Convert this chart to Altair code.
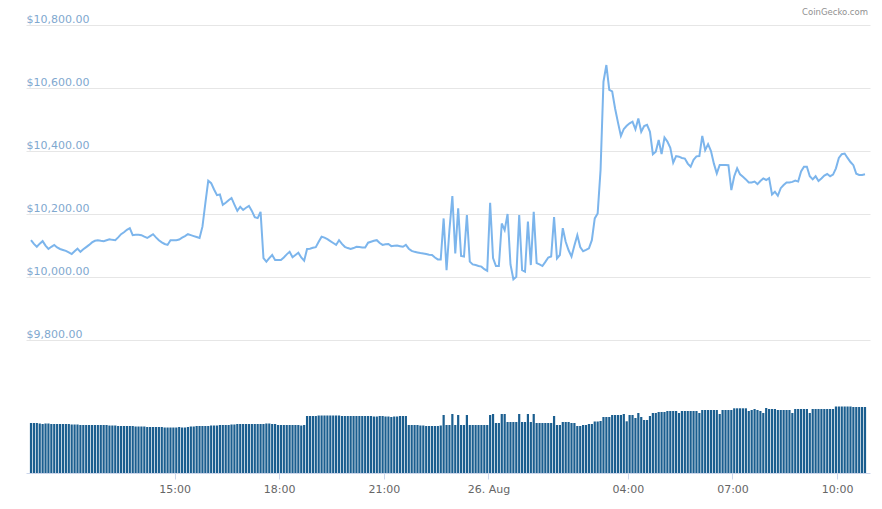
import altair as alt
import pandas as pd

# ---- data (5-minute samples, 25-26 Aug) ----
start_time = "2019-08-25 10:53"
n_points = 288

price = [
    10117, 10105, 10096, 10106, 10114, 10100, 10089, 10096, 10102, 10094, 10089, 10086,
    10083, 10078, 10073, 10082, 10090, 10080, 10088, 10095, 10102, 10110, 10115, 10117,
    10115, 10114, 10117, 10120, 10118, 10117, 10126, 10136, 10142, 10150, 10155, 10133,
    10134, 10134, 10133, 10128, 10124, 10130, 10136, 10126, 10117, 10110, 10105, 10102,
    10117, 10117, 10117, 10119, 10125, 10130, 10136, 10133, 10130, 10127, 10124, 10160,
    10235, 10306, 10298, 10278, 10260, 10262, 10229, 10236, 10244, 10251, 10230, 10210,
    10223, 10213, 10220, 10226, 10210, 10190, 10187, 10207, 10060, 10049, 10060, 10070,
    10054, 10054, 10054, 10062, 10072, 10080, 10063, 10070, 10077, 10062, 10052, 10089,
    10090, 10093, 10095, 10112, 10128, 10125, 10120, 10114, 10108, 10102, 10117, 10105,
    10096, 10092, 10089, 10092, 10096, 10095, 10094, 10094, 10109, 10112, 10115, 10117,
    10108, 10102, 10104, 10105, 10098, 10099, 10100, 10098, 10096, 10102, 10090, 10083,
    10080, 10078, 10076, 10075, 10073, 10071, 10070, 10062, 10056, 10056, 10186, 10022,
    10150, 10257, 10075, 10218, 10067, 10065, 10197, 10049, 10040, 10038, 10035, 10033,
    10025, 10020, 10236, 10060, 10035, 10035, 10170, 10149, 10200, 10040, 9993, 10001,
    10197, 10022, 10017, 10176, 10038, 10207, 10044, 10040, 10035, 10048, 10062, 10065,
    10190, 10059, 10070, 10155, 10112, 10085, 10065, 10100, 10133, 10095, 10082, 10086,
    10091, 10117, 10186, 10202, 10340, 10620, 10673, 10594, 10589, 10535, 10490, 10448,
    10470, 10480, 10488, 10493, 10469, 10503, 10461, 10479, 10483, 10461, 10390, 10398,
    10435, 10390, 10443, 10430, 10410, 10363, 10384, 10382, 10378, 10376, 10360, 10350,
    10372, 10383, 10384, 10448, 10403, 10422, 10400, 10360, 10329, 10356, 10356, 10356,
    10355, 10276, 10320, 10345, 10326, 10318, 10310, 10300, 10300, 10303, 10295, 10305,
    10313, 10308, 10314, 10262, 10271, 10258, 10282, 10292, 10300, 10300, 10302, 10306,
    10303, 10335, 10350, 10350, 10320, 10310, 10320, 10305, 10313, 10322, 10327, 10320,
    10325, 10345, 10378, 10390, 10392, 10378, 10365, 10355, 10328, 10324, 10324, 10326,
]

# relative traded volume per sample
volume = [
    50, 50, 50, 49.5, 49, 49.5, 49.5, 49, 49, 49, 49, 49,
    49, 49, 48.5, 48.5, 48.5, 48, 48, 48, 48, 48, 48, 48,
    48, 48, 48, 47.5, 47.5, 47.5, 47, 47, 47, 47, 47, 47,
    46.5, 46.5, 46.5, 46.5, 46, 46, 46, 46, 46, 46, 45.5, 45.5,
    45.5, 45.5, 45.5, 46, 45.5, 45.5, 46, 46.5, 46.5, 47, 47, 47,
    47, 47, 47.5, 47.5, 47.5, 48, 48, 48, 48, 48.5, 48.5, 49,
    49, 49, 49, 49, 49, 49, 49, 49, 49, 49.5, 49.5, 49,
    49, 48, 48, 48, 48, 48, 48, 48, 48, 47.5, 48, 57,
    57, 57, 57, 57.5, 57.5, 57.5, 57.5, 57.5, 57.5, 57.5, 57.5, 57,
    57, 57, 57, 57, 57, 57, 57, 57, 57, 57, 56.5, 56.5,
    57, 57, 56.5, 56.5, 56, 56.5, 56.5, 57, 57, 57, 48, 48,
    48, 48, 47.5, 47.5, 47, 47, 47, 47, 47, 47.5, 58, 48,
    48, 59, 48, 58, 48, 48, 58, 48, 48, 48, 48, 48,
    48, 48, 58, 59, 50, 50, 59, 59, 51, 51, 51, 51,
    59, 51, 51, 59, 51, 59, 50, 50, 50, 50, 50, 50,
    57, 48, 48, 51, 51, 51, 50, 50, 47, 47, 48, 48,
    49, 49, 51.5, 51.5, 52, 56, 56, 56, 58, 58, 58, 58,
    59, 51.7, 58, 58, 55, 60, 56, 53, 53, 57, 60, 60,
    61, 61, 61, 62, 62, 62, 62, 60, 62, 62, 62, 62,
    62, 62, 60, 63, 63, 63, 63, 63, 63, 59, 63, 63,
    63, 63, 64.7, 64.7, 64.7, 64.7, 64.7, 62, 63, 64, 63, 62,
    60, 65, 64, 64, 64, 63, 63, 63, 63, 63, 60, 64,
    64, 64, 64, 64, 60, 64, 64, 64, 64, 64, 64, 64,
    64, 66.5, 66.5, 66.5, 66.5, 66.5, 66.5, 66, 66, 66, 66, 66,
]

price_ticks = [9800, 10000, 10200, 10400, 10600, 10800]
time_ticks = [(25, 15), (25, 18), (25, 21), (26, 0), (26, 4), (26, 7), (26, 10)]
credit = ["CoinGecko.com"]

times = pd.date_range(start_time, periods=n_points, freq="5min")
df = pd.DataFrame({"time": times, "price": price, "volume": volume})

FONT = "DejaVu Sans"

x_enc = alt.X(
    "time:T",
    title=None,
    scale=alt.Scale(
        domain=[
            alt.DateTime(year=2019, month=8, date=25, hours=10, minutes=53),
            alt.DateTime(year=2019, month=8, date=26, hours=10, minutes=48),
        ],
        nice=False,
    ),
    axis=alt.Axis(
        values=[alt.DateTime(year=2019, month=8, date=d, hours=h) for d, h in time_ticks],
        labelExpr="hours(datum.value) == 0 ? timeFormat(datum.value, '%d. %b') : timeFormat(datum.value, '%H:%M')",
        grid=False,
        domainColor="#ccd6eb",
        tickColor="#ccd6eb",
        tickSize=6,
        labelPadding=4,
        labelColor="#666666",
        labelFontSize=11,
        labelFont=FONT,
        labelFlush=False,
    ),
)

bars = alt.Chart(df).mark_bar(color="#1b5e8f", size=2.2).encode(
    x=x_enc,
    y=alt.Y("volume:Q", axis=None, scale=alt.Scale(domain=[0, 448], nice=False)),
)

line = alt.Chart(df).mark_line(color="#7cb5ec", strokeWidth=2).encode(
    x=x_enc,
    y=alt.Y(
        "price:Q",
        title=None,
        scale=alt.Scale(domain=[9378, 10800], nice=False, zero=False),
        axis=alt.Axis(
            values=price_ticks,
            format="$,.2f",
            grid=True,
            gridColor="#e6e6e6",
            domain=False,
            ticks=False,
            tickSize=0,
            labelPadding=0,
            labelAlign="left",
            labelBaseline="alphabetic",
            labelOffset=-3,
            labelColor="#7fa8cf",
            labelFontSize=11,
            labelFont=FONT,
        ),
    ),
)

credit_text = alt.Chart(pd.DataFrame({"t": credit})).mark_text(
    align="right", baseline="bottom", fontSize=8.5, color="#909090", font=FONT
).encode(text="t:N", x=alt.value(842), y=alt.value(-8))

chart = (
    alt.layer(bars, line, credit_text)
    .resolve_scale(y="independent")
    .properties(
        width=844,
        height=448,
        padding={"left": 26, "top": 25, "right": 12, "bottom": 36},
        autosize=alt.AutoSizeParams(type="none"),
        background="white",
    )
    .configure_view(stroke=None)
)

chart.save("out.html", embed_options={"renderer": "svg", "actions": False})
